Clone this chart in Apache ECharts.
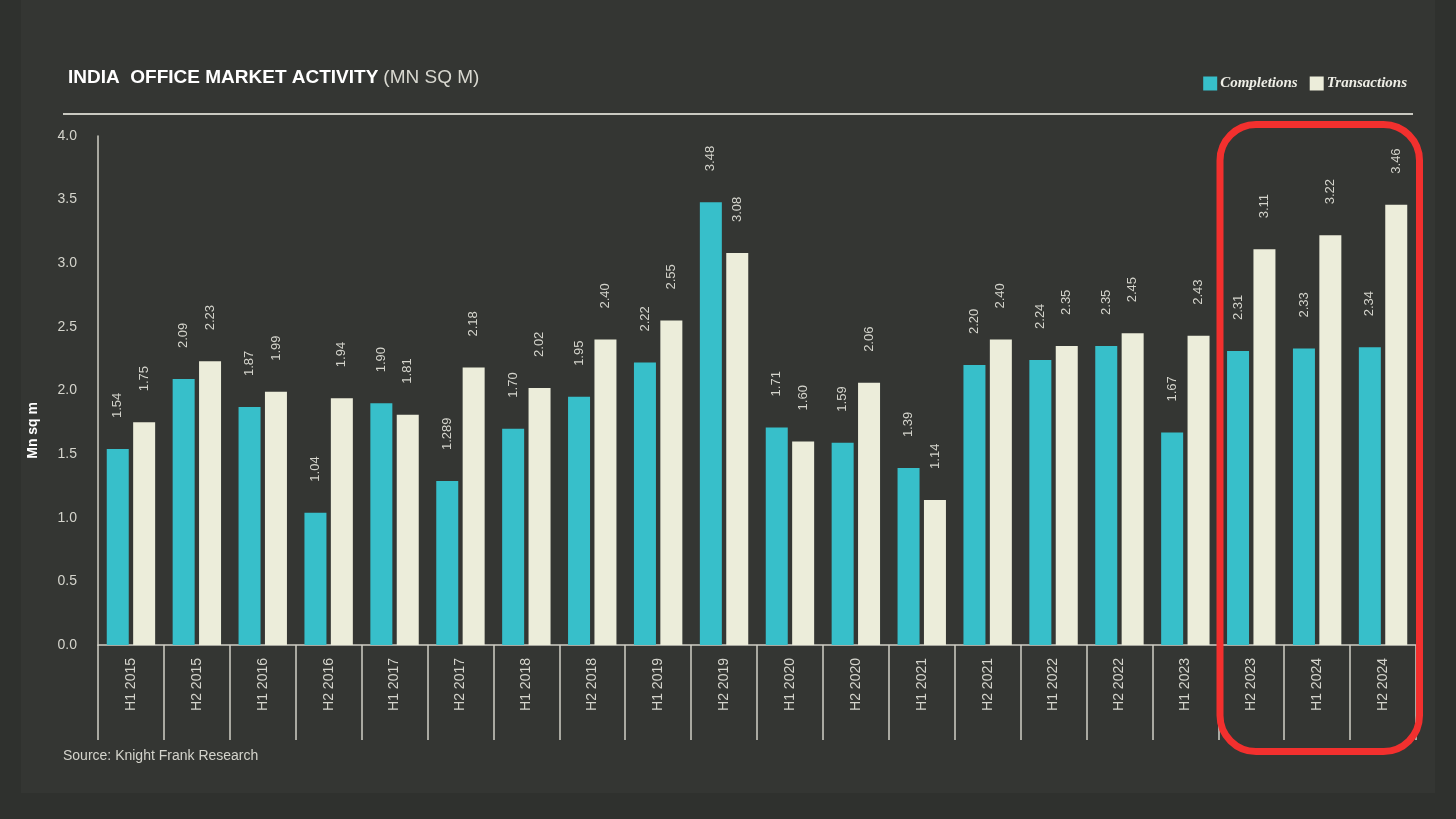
<!DOCTYPE html>
<html>
<head>
<meta charset="utf-8">
<script src="https://cdn.jsdelivr.net/npm/echarts@6/dist/echarts.min.js"></script>
<style>
html,body{margin:0;padding:0;background:#2f312e;}
#chart{width:1456px;height:819px;}
</style>
</head>
<body>
<div id="chart"></div>
<script>
const categories = ['H1 2015','H2 2015','H1 2016','H2 2016','H1 2017','H2 2017','H1 2018','H2 2018','H1 2019','H2 2019','H1 2020','H2 2020','H1 2021','H2 2021','H1 2022','H2 2022','H1 2023','H2 2023','H1 2024','H2 2024'];
const completions = [1.54, 2.09, 1.87, 1.04, 1.90, 1.289, 1.70, 1.95, 2.22, 3.48, 1.71, 1.59, 1.39, 2.20, 2.24, 2.35, 1.67, 2.31, 2.33, 2.34];
const transactions = [1.75, 2.23, 1.99, 1.94, 1.81, 2.18, 2.02, 2.40, 2.55, 3.08, 1.60, 2.06, 1.14, 2.40, 2.35, 2.45, 2.43, 3.11, 3.22, 3.46];
const yTicks = [0, 0.5, 1.0, 1.5, 2.0, 2.5, 3.0, 3.5, 4.0];

const TEAL = '#37bfca';
const CREAM = '#ecedda';
const AXIS = '#cfcfc6';
const TXT = '#d4d4cc';
const FONT = '"Liberation Sans", Arial, sans-serif';

function fmt(v){
  let s = String(v);
  if (s.indexOf('.') < 0) s += '.00';
  else if (s.split('.')[1].length < 2) s += '0';
  return s;
}
const labelCfg = {
  show: true, position: 'top', rotate: 90, align: 'left', verticalAlign: 'middle',
  distance: 31, color: TXT, fontSize: 13, fontFamily: FONT,
  formatter: p => fmt(p.value)
};

const chart = echarts.init(document.getElementById('chart'));
chart.setOption({
  backgroundColor: '#2f312e',
  animation: false,
  textStyle: {fontFamily: FONT},
  title: {
    left: 63, top: 63,
    text: '{b|INDIA  OFFICE MARKET ACTIVITY} {n|(MN SQ M)}',
    textStyle: {
      rich: {
        b: {fontSize: 19, fontWeight: 'bold', color: '#ffffff', fontFamily: FONT},
        n: {fontSize: 19, fontWeight: 'normal', color: '#d8d8d0', fontFamily: FONT}
      }
    }
  },
  legend: {
    right: 44, top: 71,
    itemWidth: 14, itemHeight: 14, itemGap: 12,
    icon: 'rect',
    textStyle: {color: '#eeeee6', fontSize: 15, fontStyle: 'italic', fontWeight: 'bold', fontFamily: '"Liberation Serif", "DejaVu Serif", serif', padding: [0,0,0,-2]},
    data: ['Completions', 'Transactions']
  },
  grid: {left: 98, right: 40, top: 136, bottom: 174},
  xAxis: {
    type: 'category',
    data: categories,
    axisLine: {lineStyle: {color: AXIS, width: 1.5}},
    axisTick: {show: true, interval: 0, length: 95, lineStyle: {color: AXIS, width: 1.5}},
    axisLabel: {interval: 0, rotate: 90, margin: 13, color: TXT, fontSize: 14, fontFamily: FONT}
  },
  yAxis: {
    type: 'value', min: 0, max: 4, interval: 0.5,
    axisLine: {show: true, lineStyle: {color: AXIS, width: 1.5}},
    axisTick: {show: false},
    splitLine: {show: false},
    axisLabel: {color: TXT, fontSize: 14, margin: 21, fontFamily: FONT,
      formatter: v => yTicks.includes(v) ? v.toFixed(1) : ''}
  },
  series: [
    {name: 'Completions', type: 'bar', data: completions, barWidth: 22, barGap: '20%',
      itemStyle: {color: TEAL}, label: labelCfg},
    {name: 'Transactions', type: 'bar', data: transactions, barWidth: 22, barGap: '20%',
      itemStyle: {color: CREAM}, label: labelCfg}
  ],
  graphic: [
    {type: 'rect', z: -10, shape: {x: 21, y: 0, width: 1414, height: 793},
      style: {fill: '#343633'}},
    {type: 'line', shape: {x1: 63, y1: 114, x2: 1413, y2: 114},
      style: {stroke: '#c9c9c1', lineWidth: 2}},
    {type: 'text', left: 26, top: 402, rotation: Math.PI/2,
      style: {text: 'Mn sq m', fill: '#ffffff', fontSize: 14, fontWeight: 'bold', fontFamily: FONT}},
    {type: 'text', left: 63, top: 749,
      style: {text: 'Source: Knight Frank Research', fill: TXT, fontSize: 14, fontFamily: FONT}},
    {type: 'rect', z: 100, shape: {x: 1220, y: 124.5, width: 199.5, height: 627, r: 36},
      style: {fill: 'none', stroke: '#f2302e', lineWidth: 7}}
  ]
});
</script>
</body>
</html>
